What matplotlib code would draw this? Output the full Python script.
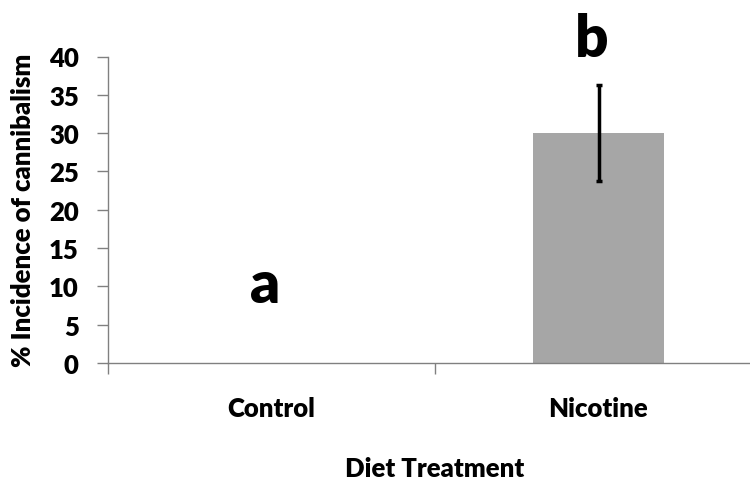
import matplotlib
matplotlib.use("Agg")
import matplotlib.pyplot as plt

categories = ["Control", "Nicotine"]
values = [0, 30]
errors = [0, 6.3]
letters = ["a", "b"]
letter_y = [8, 40]
yticks = [0, 5, 10, 15, 20, 25, 30, 35, 40]

plt.rcParams['font.family'] = ['Lato', 'DejaVu Sans']
plt.rcParams['font.weight'] = 'heavy'
FS = 18.5
W = 'heavy'

fig = plt.figure(figsize=(7.5, 4.81), dpi=100)
ax = fig.add_axes([108/750, 1-364/481, (762-108)/750, (364-57.5)/481])
x = list(range(len(categories)))
ax.bar(x, values, width=0.4, color="#a6a6a6", zorder=2)
ax.errorbar(x[1:], values[1:], yerr=errors[1:], fmt='none', ecolor='black',
            elinewidth=2.5, capsize=2, capthick=2.5, zorder=3)
for xi, lt, ly in zip(x, letters, letter_y):
    ax.text(xi - 0.02, ly, lt, ha='center', va='baseline', fontsize=42,
            fontweight=W, color='black')

ax.set_xlim(-0.5, 1.5)
ax.set_ylim(0, 40)
ax.set_yticks(yticks)
ax.set_yticklabels([str(t) for t in yticks], fontsize=FS, fontweight=W)
ax.set_xticks(x)
ax.set_xticklabels(categories, fontsize=FS, fontweight=W)
ax.set_xticks([-0.5, 0.5, 1.5], minor=True)
ax.tick_params(axis='x', which='major', length=0, pad=24)
ax.tick_params(axis='x', which='minor', length=8, direction='out', color='#808080', width=1)
ax.tick_params(axis='y', length=8, direction='out', color='#808080', width=1, pad=13)
for s in ['top', 'right']:
    ax.spines[s].set_visible(False)
for s in ['left', 'bottom']:
    ax.spines[s].set_color('#808080')
    ax.spines[s].set_linewidth(1)
ax.set_xlabel("Diet Treatment", fontsize=FS, fontweight=W, labelpad=26)
ax.set_ylabel("% Incidence of cannibalism", fontsize=FS, fontweight=W, labelpad=10)

fig.savefig("out.png", dpi=100)
